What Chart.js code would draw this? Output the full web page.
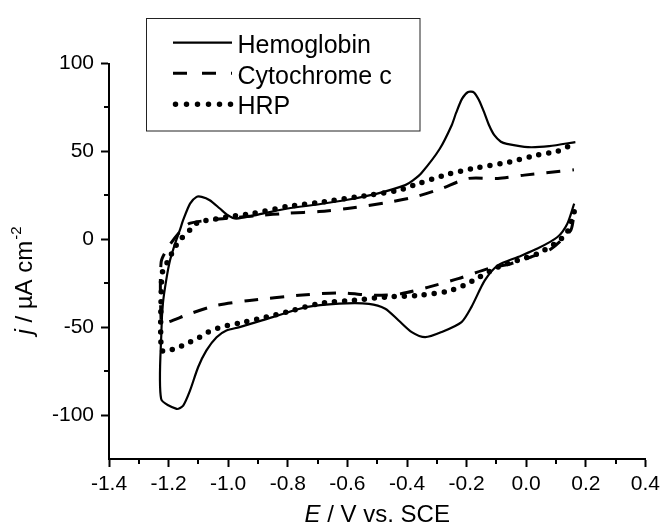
<!DOCTYPE html>
<html>
<head>
<meta charset="utf-8">
<script src="https://cdn.jsdelivr.net/npm/chart.js@4.4.0/dist/chart.umd.min.js"></script>
<style>
  html, body { margin: 0; padding: 0; background: #fff; }
</style>
</head>
<body>
<canvas id="cv" width="665" height="530"></canvas>
<script>
// axis ticks
const eTicks = [-1.4, -1.2, -1.0, -0.8, -0.6, -0.4, -0.2, 0.0, 0.2, 0.4]
const eLabels = ['-1.4', '-1.2', '-1.0', '-0.8', '-0.6', '-0.4', '-0.2', '0.0', '0.2', '0.4']
const eMinor = [-1.3, -1.1, -0.9, -0.7, -0.5, -0.3, -0.1, 0.1, 0.3]
const jTicks = [-100, -50, 0, 50, 100]
const jLabels = ['-100', '-50', '0', '50', '100']
const jMinor = [-75, -25, 25, 75]

const seriesNames = ['Hemoglobin', 'Cytochrome c', 'HRP']

// Hemoglobin: cathodic branch (right -> left), then anodic branch (left -> right)
const hbE = [0.161, 0.138, 0.105, 0.038, -0.028, -0.095, -0.139, -0.184, -0.217, -0.284, -0.339, -0.384, -0.428, -0.473, -0.528, -0.628, -0.739, -0.851, -0.962, -1.006, -1.039, -1.073, -1.101, -1.128, -1.151, -1.173, -1.225,
  -1.224, -1.219, -1.208, -1.195, -1.178, -1.162, -1.151, -1.128, -1.106, -1.089, -1.062, -1.028, -1.001, -0.973, -0.9, -0.8, -0.7, -0.6, -0.5, -0.406, -0.38, -0.35, -0.29, -0.25, -0.235, -0.215, -0.195, -0.175, -0.158, -0.142, -0.125, -0.107, -0.085, -0.065, 0.006, 0.077, 0.165]
const hbJ = [20.3, 8.9, 1.3, -5.3, -10.1, -14.8, -23.4, -38.6, -47.1, -52.8, -55.7, -52.8, -46.2, -39.5, -36.7, -36.6, -38.6, -44.3, -50, -51.9, -55.7, -63.2, -72.8, -86, -94.6, -96.5, -90.8,
  -51.6, -36.4, -23.2, -11.8, -2.3, 5.3, 11, 20.3, 24.1, 24.1, 22.2, 17.5, 13.7, 11.8, 14, 17.5, 19.8, 22.5, 26, 30.8, 33.5, 38, 51.5, 64.9, 72, 80, 83.8, 83.5, 79, 72.6, 65, 59.2, 55.5, 54.3, 52.4, 53, 55.3]

// Cytochrome c
const cyE = [0.158, 0.149, 0.083, 0.016, -0.051, -0.128, -0.228, -0.328, -0.417, -0.506, -0.628, -0.762, -0.928, -1.039, -1.128, -1.217, -1.225,
  -1.225, -1.2, -1.162, -1.13, -1.056, -0.999, -0.9, -0.8, -0.695, -0.6, -0.473, -0.373, -0.284, -0.195, -0.095, -0.006, 0.127, 0.16]
const cyJ = [11, 5, -5.5, -10.1, -13.9, -16.7, -22.4, -27.2, -30.9, -31.9, -30.5, -31.9, -34.8, -37.6, -42.3, -48, -47,
  -13, -4.2, 4.3, 9, 11, 12, 13.5, 14.8, 15.8, 17.5, 20.7, 24.1, 28.9, 34.6, 34.6, 36.5, 38.9, 39.5]

// HRP
const hrE = [0.161, 0.138, 0.105, 0.038, -0.028, -0.095, -0.162, -0.201, -0.262, -0.362, -0.473, -0.562, -0.695, -0.784, -0.873, -0.962, -1.001, -1.034, -1.067, -1.1, -1.134, -1.167, -1.2, -1.224,
  -1.224, -1.219, -1.2, -1.184, -1.162, -1.128, -1.098, -1.056, -0.999, -0.914, -0.801, -0.695, -0.528, -0.428, -0.362, -0.262, -0.162, -0.056, 0.038, 0.105, 0.155]
const hrJ = [15.6, 4.2, -1.5, -8.2, -12, -15.8, -22, -25.6, -29.6, -31.9, -32.9, -34.4, -36.6, -40.5, -44.3, -47.7, -49, -50.5, -52.8, -56.2, -58.9, -61.4, -63.2, -63.2,
  -25, -17.5, -11.8, -6.1, -0.4, 5.3, 10, 11, 12.9, 14.8, 18.7, 21, 25.1, 27.9, 31.7, 37, 40.8, 44, 47.9, 50.1, 54]

const toPoints = (xs, ys) => xs.map((x, i) => ({ x: x, y: ys[i] }))

const FONT = "'Liberation Sans', Arial, sans-serif"

// line looks, shared by the plot and the legend
const looks = [
  { width: 2.2, dash: [], cap: 'butt' },
  { width: 3, dash: [14, 12], cap: 'butt' },
  { width: 5.5, dash: [0, 10], cap: 'round' },
]

//draws minor ticks, the axis titles and the boxed legend
const extras = {
  id: 'extras',
  afterDraw(chart) {
    const { ctx, chartArea: a, scales: { x, y } } = chart
    ctx.save()
    ctx.strokeStyle = '#000'
    ctx.fillStyle = '#000'
    ctx.lineWidth = 2
    ctx.beginPath()
    eMinor.forEach(v => {
      const px = Math.round(x.getPixelForValue(v))
      ctx.moveTo(px, a.bottom)
      ctx.lineTo(px, a.bottom + 5)
    })
    jMinor.forEach(v => {
      const py = Math.round(y.getPixelForValue(v))
      ctx.moveTo(a.left, py)
      ctx.lineTo(a.left - 5, py)
    })
    ctx.stroke()

    // x title: E / V vs. SCE
    ctx.textBaseline = 'alphabetic'
    ctx.font = 'italic 24px ' + FONT
    const wE = ctx.measureText('E').width
    ctx.font = '24px ' + FONT
    const rest = ' / V vs. SCE'
    const wR = ctx.measureText(rest).width
    let sx = (a.left + a.right) / 2 - (wE + wR) / 2
    ctx.font = 'italic 24px ' + FONT
    ctx.fillText('E', sx, 522)
    ctx.font = '24px ' + FONT
    ctx.fillText(rest, sx + wE, 522)

    // y title: j / µA cm-2, rotated
    ctx.save()
    ctx.translate(32, 281)
    ctx.rotate(-Math.PI / 2)
    ctx.font = 'italic 24px ' + FONT
    const wj = ctx.measureText('j').width
    ctx.font = '24px ' + FONT
    const mid = ' / µA cm'
    const wm = ctx.measureText(mid).width
    ctx.font = '15px ' + FONT
    const ws = ctx.measureText('-2').width
    let tx = -(wj + wm + ws) / 2
    ctx.font = 'italic 24px ' + FONT
    ctx.fillText('j', tx, 0)
    ctx.font = '24px ' + FONT
    ctx.fillText(mid, tx + wj, 0)
    ctx.font = '15px ' + FONT
    ctx.fillText('-2', tx + wj + wm + 1, -11)
    ctx.restore()

    // legend box
    ctx.lineWidth = 1
    ctx.strokeStyle = '#222'
    ctx.fillStyle = '#fff'
    ctx.fillRect(146.5, 18.5, 273.5, 112.5)
    ctx.strokeRect(146.5, 18.5, 273.5, 112.5)
    const rowLine = [42.7, 73.3, 104.3]
    const rowBase = [53, 83.5, 114]
    ctx.fillStyle = '#000'
    ctx.strokeStyle = '#000'
    ctx.font = '25px ' + FONT
    seriesNames.forEach((name, i) => {
      const lk = looks[i]
      ctx.lineWidth = lk.width
      ctx.setLineDash(i === 1 ? [14, 15] : (i === 2 ? [0, 11] : []))
      ctx.lineCap = lk.cap
      ctx.beginPath()
      ctx.moveTo(i === 2 ? 175.5 : 173, rowLine[i])
      ctx.lineTo(i === 2 ? 231 : 232, rowLine[i])
      ctx.stroke()
      ctx.setLineDash([])
      ctx.fillText(name, 237.5, rowBase[i])
    })
    ctx.restore()
  }
}

const datasets = [toPoints(hbE, hbJ), toPoints(cyE, cyJ), toPoints(hrE, hrJ)].map((pts, i) => ({
  label: seriesNames[i],
  data: pts,
  showLine: true,
  borderColor: '#000',
  borderWidth: looks[i].width,
  borderDash: looks[i].dash,
  borderCapStyle: looks[i].cap,
  borderJoinStyle: 'round',
  pointRadius: 0,
  tension: 0.25,
  fill: false,
}))

const tickFont = { family: FONT, size: 21 }

new Chart(document.getElementById('cv'), {
  type: 'scatter',
  data: { datasets: datasets },
  options: {
    responsive: false,
    animation: false,
    layout: { padding: { top: 63.5, right: 16.5, left: 0, bottom: 0 } },
    plugins: { legend: { display: false }, tooltip: { enabled: false } },
    scales: {
      x: {
        type: 'linear',
        min: -1.4,
        max: 0.4,
        afterBuildTicks: (s) => { s.ticks = eTicks.map(v => ({ value: v })) },
        afterFit: (s) => { s.height = 71 },
        ticks: { callback: (v, i) => eLabels[i], font: tickFont, color: '#000', padding: 5, maxRotation: 0, autoSkip: false },
        grid: { drawOnChartArea: false, tickLength: 8, tickWidth: 2, tickColor: '#000' },
        border: { color: '#000', width: 2 },
      },
      y: {
        type: 'linear',
        min: -125,
        max: 100,
        afterBuildTicks: (s) => { s.ticks = jTicks.map(v => ({ value: v })) },
        afterFit: (s) => { s.width = 109 },
        ticks: { callback: (v, i) => jLabels[i], font: tickFont, color: '#000', padding: 7, autoSkip: false },
        grid: { drawOnChartArea: false, tickLength: 8, tickWidth: 2, tickColor: '#000' },
        border: { color: '#000', width: 2 },
      },
    },
  },
  plugins: [extras],
})
</script>
</body>
</html>
